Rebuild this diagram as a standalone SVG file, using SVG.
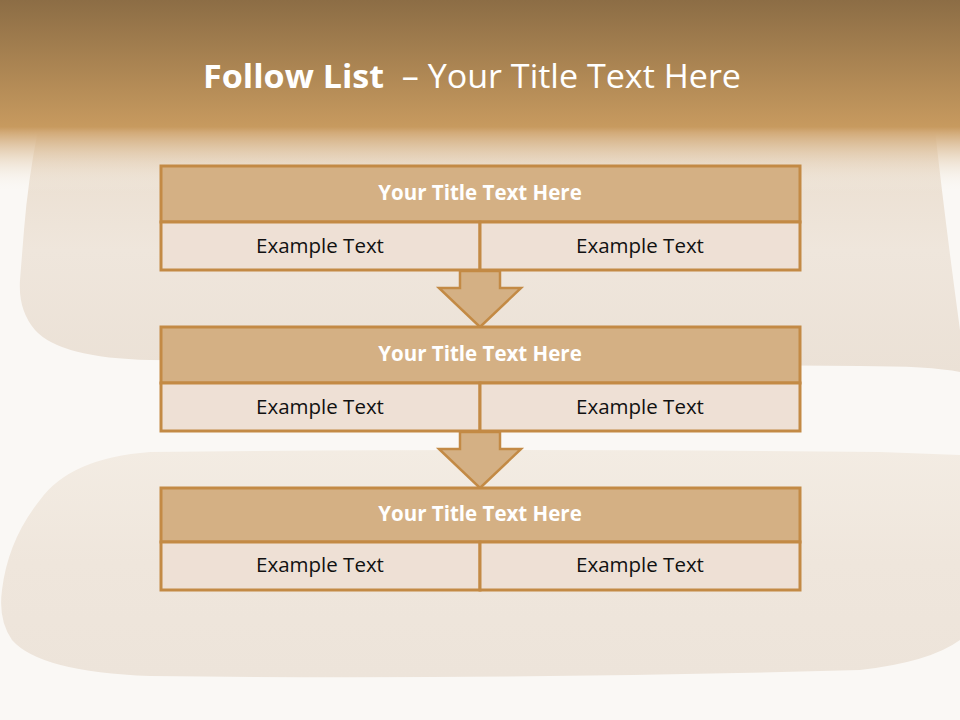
<svg xmlns="http://www.w3.org/2000/svg" width="960" height="720" viewBox="0 0 960 720">
<defs>
<linearGradient id="hdr" x1="0" y1="0" x2="0" y2="1">
<stop offset="0" stop-color="#8C6D45"/>
<stop offset="0.66" stop-color="#C79A5F"/>
<stop offset="0.69" stop-color="#D2AA78"/>
<stop offset="1" stop-color="#FAF8F5" stop-opacity="0"/>
</linearGradient>
<linearGradient id="board1" x1="0" y1="0" x2="0" y2="1">
<stop offset="0" stop-color="#EADDCD"/>
<stop offset="0.5" stop-color="#EFE6DC"/>
<stop offset="1" stop-color="#EBE1D6"/>
</linearGradient>
<linearGradient id="board2" x1="0" y1="0" x2="0" y2="1">
<stop offset="0" stop-color="#F3ECE3"/>
<stop offset="0.5" stop-color="#EFE6DC"/>
<stop offset="1" stop-color="#EDE4DA"/>
</linearGradient>
<style>
.ttl{fill:#D4B084;stroke:#C38A45;stroke-width:3}
.row{fill:#EEE0D5;stroke:#C38A45;stroke-width:3}
.arr{fill:#D4B084;stroke:#C38A45;stroke-width:2.5;stroke-linejoin:miter}
.tt{font-family:"Open Sans","Liberation Sans",sans-serif;font-weight:bold;font-size:20.5px;fill:#FFFFFF;text-anchor:middle}
.et{font-family:"Open Sans","Liberation Sans",sans-serif;font-size:20.5px;fill:#111111;text-anchor:middle}
</style>
</defs>
<rect x="0" y="0" width="960" height="720" fill="#FAF8F5"/>
<!-- background boards -->
<path d="M38,130 L935,130 Q945,220 960,330 L960,372 Q930,366 860,366 L150,360 Q60,358 35,330 Q18,310 20,280 L24,230 Q28,180 38,130 Z" fill="url(#board1)"/>
<path d="M150,452 Q500,448 880,452 L960,455 L960,640 Q930,662 860,670 Q500,680 150,676 Q40,672 12,640 Q-2,620 2,590 Q8,540 40,500 Q70,458 150,452 Z" fill="url(#board2)"/>
<!-- header -->
<rect x="0" y="0" width="960" height="192" fill="url(#hdr)"/>
<text x="203" y="88" font-family="Open Sans, Liberation Sans, sans-serif" font-size="32" fill="#FFFFFF" xml:space="preserve" textLength="538" lengthAdjust="spacingAndGlyphs"><tspan font-weight="bold">Follow List</tspan>  – Your Title Text Here</text>
<!-- connectors -->
<g id="connectors">
<path class="arr" d="M460,271 L500,271 L500,288 L521,288 L480,327 L439,288 L460,288 Z"/>
<path class="arr" d="M460,432 L500,432 L500,449 L521,449 L480,488 L439,449 L460,449 Z"/>
</g>
<g id="node1">
<rect class="ttl" x="161" y="166" width="639" height="56"/>
<rect class="row" x="161" y="222" width="319" height="48"/>
<rect class="row" x="480" y="222" width="320" height="48"/>
<text class="tt" x="480" y="200">Your Title Text Here</text>
<text class="et" x="320" y="253">Example Text</text>
<text class="et" x="640" y="253">Example Text</text>
</g>
<g id="node2">
<rect class="ttl" x="161" y="327" width="639" height="56"/>
<rect class="row" x="161" y="383" width="319" height="48"/>
<rect class="row" x="480" y="383" width="320" height="48"/>
<text class="tt" x="480" y="361">Your Title Text Here</text>
<text class="et" x="320" y="414">Example Text</text>
<text class="et" x="640" y="414">Example Text</text>
</g>
<g id="node3">
<rect class="ttl" x="161" y="488" width="639" height="54"/>
<rect class="row" x="161" y="542" width="319" height="48"/>
<rect class="row" x="480" y="542" width="320" height="48"/>
<text class="tt" x="480" y="521">Your Title Text Here</text>
<text class="et" x="320" y="572">Example Text</text>
<text class="et" x="640" y="572">Example Text</text>
</g>
</svg>
